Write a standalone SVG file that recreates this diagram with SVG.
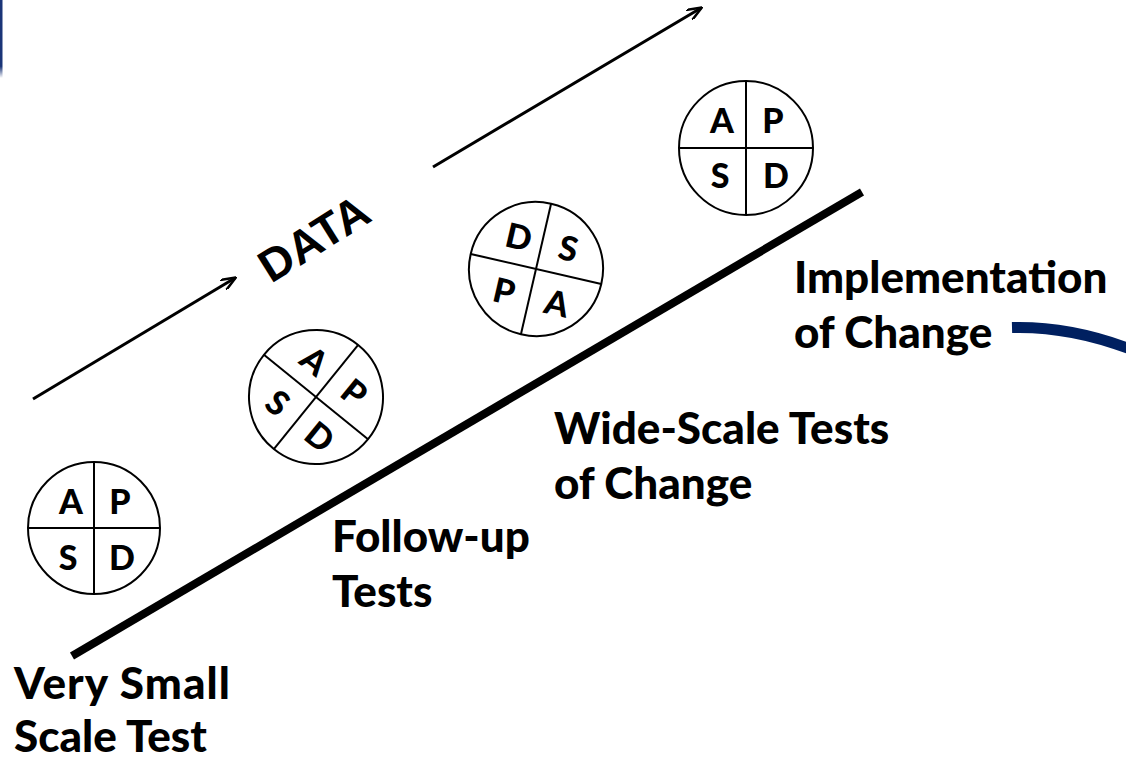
<svg xmlns="http://www.w3.org/2000/svg" width="1126" height="763" viewBox="0 0 1126 763">
<style>
.circ{fill:#fff;stroke:#000;stroke-width:2}
.div{stroke:#000;stroke-width:2}
.let{font-family:Lato,"Liberation Sans",sans-serif;font-weight:900;font-size:34px;text-anchor:middle;fill:#000}
.lbl{font-family:Lato,"Liberation Sans",sans-serif;font-weight:900;font-size:44px;fill:#000}
.arrow{stroke:#000;stroke-width:3;fill:none}
</style>
<defs>
<marker id="ah" markerWidth="16" markerHeight="12" refX="14" refY="6" orient="auto" markerUnits="userSpaceOnUse">
<path d="M0,0 L15,6 L0,12" fill="none" stroke="#000" stroke-width="2.5"/>
</marker>
<linearGradient id="bar" x1="0" y1="0" x2="0" y2="1">
<stop offset="0.85" stop-color="#1a3578"/>
<stop offset="1" stop-color="#1a3578" stop-opacity="0"/>
</linearGradient>
</defs>
<rect x="0" y="0" width="2.5" height="78" fill="url(#bar)"/>

<g id="connectors">
<line x1="72" y1="656" x2="862" y2="192" stroke="#000" stroke-width="8"/>
<line class="arrow" x1="33" y1="399" x2="235" y2="278" marker-end="url(#ah)"/>
<line class="arrow" x1="433" y1="167" x2="701" y2="8" marker-end="url(#ah)"/>
<path d="M1012,327.5 Q1070,326 1130,349" fill="none" stroke="#002060" stroke-width="11"/>
</g>

<g id="data-label">
<text font-family="'Liberation Sans',Arial,sans-serif" font-weight="bold" font-size="46" transform="translate(271,284) rotate(-32)">DATA</text>
</g>

<g id="pdsa1" transform="translate(94,528)">
<circle class="circ" cx="0" cy="0" r="66"/>
<line class="div" x1="0" y1="-66" x2="0" y2="66"/>
<line class="div" x1="-66" y1="0" x2="66" y2="0"/>
<text class="let" x="-23" y="-14">A</text>
<text class="let" x="26" y="-14">P</text>
<text class="let" x="-26" y="42">S</text>
<text class="let" x="28" y="42">D</text>
</g>

<g id="pdsa2" transform="translate(316,397) rotate(39)">
<circle class="circ" cx="0" cy="0" r="67"/>
<line class="div" x1="0" y1="-67" x2="0" y2="67"/>
<line class="div" x1="-67" y1="0" x2="67" y2="0"/>
<text class="let" x="-24" y="-15">A</text>
<text class="let" x="27" y="-15">P</text>
<text class="let" x="-26" y="41">S</text>
<text class="let" x="28" y="41">D</text>
</g>

<g id="pdsa3" transform="translate(536,269) rotate(13)">
<circle class="circ" cx="0" cy="0" r="67"/>
<line class="div" x1="0" y1="-67" x2="0" y2="67"/>
<line class="div" x1="-67" y1="0" x2="67" y2="0"/>
<text class="let" x="-24" y="-15">D</text>
<text class="let" x="27" y="-15">S</text>
<text class="let" x="-26" y="41">P</text>
<text class="let" x="28" y="41">A</text>
</g>

<g id="pdsa4" transform="translate(746,148)">
<circle class="circ" cx="0" cy="0" r="67"/>
<line class="div" x1="0" y1="-67" x2="0" y2="67"/>
<line class="div" x1="-67" y1="0" x2="67" y2="0"/>
<text class="let" x="-24" y="-15">A</text>
<text class="let" x="27" y="-15">P</text>
<text class="let" x="-26" y="40">S</text>
<text class="let" x="30" y="40">D</text>
</g>

<g id="label-implementation">
<text class="lbl" x="794" y="293">Implementation</text>
<text class="lbl" x="794" y="348">of Change</text>
</g>
<g id="label-widescale">
<text class="lbl" x="554" y="444">Wide-Scale Tests</text>
<text class="lbl" x="554" y="499">of Change</text>
</g>
<g id="label-followup">
<text class="lbl" x="332" y="552">Follow-up</text>
<text class="lbl" x="332" y="607">Tests</text>
</g>
<g id="label-verysmall">
<text class="lbl" x="14" y="699" textLength="216">Very Small</text>
<text class="lbl" x="14" y="752">Scale Test</text>
</g>
</svg>
